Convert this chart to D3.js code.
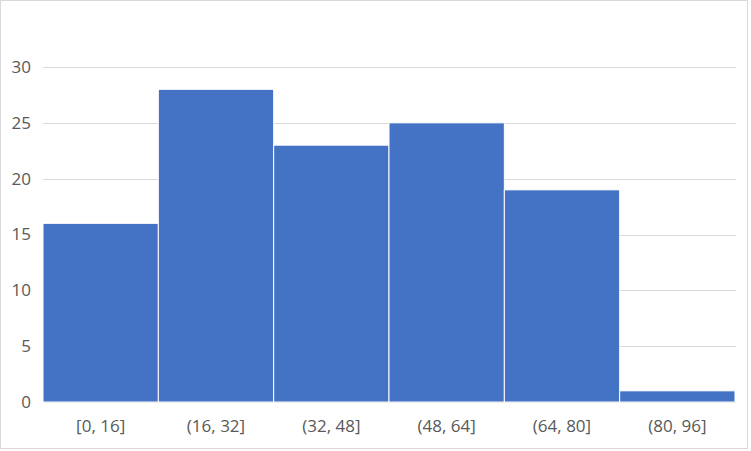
<!DOCTYPE html>
<html><head><meta charset="utf-8">
<script src="https://cdn.jsdelivr.net/npm/d3@7"></script>
<style>body{margin:0;background:#fff}svg{display:block}</style>
</head><body>
<script>
const categories = ["[0, 16]", "(16, 32]", "(32, 48]", "(48, 64]", "(64, 80]", "(80, 96]"];
const counts = [16, 28, 23, 25, 19, 1];
const yTicks = [0, 5, 10, 15, 20, 25, 30];

(function () {
const W = 751, H = 451;
const svg = d3.select("body").append("svg").attr("width", W).attr("height", H);
svg.append("rect").attr("x", 0.5).attr("y", 0.5).attr("width", 747).attr("height", 448)
  .attr("fill", "#fff").attr("stroke", "#d9d9d9");

const mLeft = 43, mRight = 735, mTop = 67, mBottom = 402;
const x = d3.scaleBand().domain(categories).range([mLeft, mRight]).padding(0);
const y = d3.scaleLinear().domain([0, 30]).range([mBottom, mTop]);

svg.append("g").selectAll("line").data(yTicks).join("line")
  .attr("x1", mLeft).attr("x2", mRight + 1)
  .attr("y1", d => Math.round(y(d)) + 0.5).attr("y2", d => Math.round(y(d)) + 0.5)
  .attr("stroke", "#d9d9d9").attr("stroke-width", 1);

svg.append("g").selectAll("rect").data(counts).join("rect")
  .attr("x", (d, i) => x(categories[i]))
  .attr("width", x.bandwidth())
  .attr("y", d => y(d))
  .attr("height", d => mBottom - y(d))
  .attr("fill", "#4472C4").attr("stroke", "#fff").attr("stroke-width", 1);

const font = "'Open Sans', sans-serif";
const yAxis = d3.axisLeft(y).tickValues(yTicks).tickSize(0).tickPadding(12);
const gy = svg.append("g").attr("transform", `translate(${mLeft},0)`).call(yAxis);
gy.select(".domain").remove();
gy.selectAll("text").attr("fill", "#595959").style("font-family", font).style("font-size", "17px");

const xAxis = d3.axisBottom(x).tickSize(0).tickPadding(18);
const gx = svg.append("g").attr("transform", `translate(0,${mBottom})`).call(xAxis);
gx.select(".domain").remove();
gx.selectAll("text").attr("fill", "#595959").style("font-family", font).style("font-size", "17px");
})();
</script>
</body></html>
